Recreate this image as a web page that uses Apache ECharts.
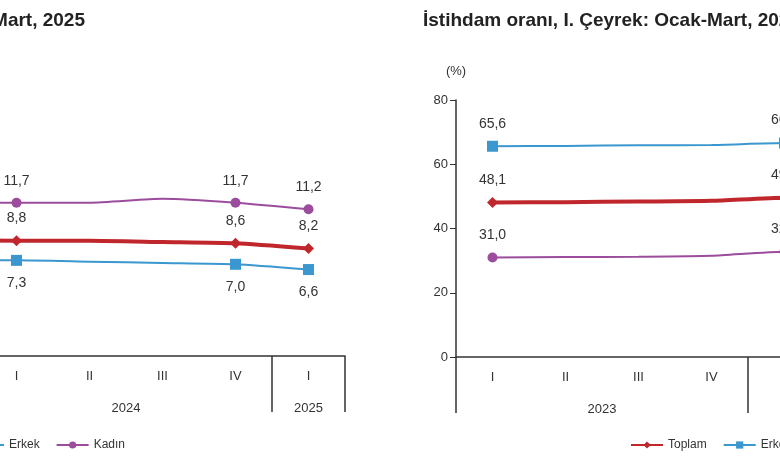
<!DOCTYPE html>
<html><head><meta charset="utf-8">
<script src="https://cdn.jsdelivr.net/npm/echarts@6/dist/echarts.min.js"></script>
<style>html,body{margin:0;background:#fff;overflow:hidden;width:780px;height:470px}#c{position:absolute;left:-400px;top:0;width:1560px;height:470px}</style>
</head><body><div id="c"></div>
<script>
const quarters = ['I','II','III','IV','I','II','III','IV','I'];
const yearLabels = {2:'2023', 6:'2024', 8.5:'2025'};
// Unemployment (left chart)
const unTotal = [10.0, 9.6, 9.2, 8.9, 8.8, 8.8, 8.7, 8.6, 8.2];
const unMale  = [8.3, 8.0, 7.6, 7.3, 7.3, 7.2, 7.1, 7.0, 6.6];
const unFemale= [13.4, 12.8, 12.4, 11.8, 11.7, 11.7, 12.0, 11.7, 11.2];
// Employment (right chart)
const emTotal = [48.1, 48.2, 48.4, 48.6, 49.6, 49.4, 49.3, 49.1, 49.0];
const emMale  = [65.6, 65.7, 65.9, 66.0, 66.6, 66.3, 66.1, 65.9, 65.8];
const emFemale= [31.0, 31.1, 31.2, 31.5, 32.8, 32.6, 32.5, 32.4, 32.3];
const labelIdx = [0,4,7,8];
const names = ['Toplam','Erkek','Kadın'];
const colors = ['#C0272D','#3A97CF','#9B4C9C'];
const symbols = ['diamond','rect','circle'];

const fmt = v => v.toFixed(1).replace('.', ',');
function mk(vals, k, gi, pos){
  return {
    name: names[k], type:'line', xAxisIndex: gi*2, yAxisIndex: gi, smooth:0.2,
    color: colors[k], symbol:symbols[k], symbolSize:7,
    lineStyle:{width: k===0?4:2, color:colors[k]},
    z: k===0?3:2,
    data: vals.map((v,i)=>labelIdx.includes(i)
      ? {value:v, symbol:symbols[k], symbolSize:k===2?10:11,
         label:{show:true, position:pos, distance:10, formatter:()=>fmt(v), fontSize:14, color:'#333'}}
      : {value:v, symbol:'none'})
  };
}
function xAxes(gi){
  return [
    {type:'category', gridIndex:gi, data:quarters, boundaryGap:true,
     axisLine:{lineStyle:{color:'#333', width:1.5}},
     axisTick:{show:true, interval:(i)=>[0,4,8,9].includes(i), length:56, lineStyle:{color:'#333',width:1.5}},
     axisLabel:{color:'#333', fontSize:13, margin:14, interval:0}},
    {type:'value', gridIndex:gi, min:0, max:9, interval:0.5, position:'bottom', offset:38,
     axisLine:{show:false}, axisTick:{show:false}, splitLine:{show:false},
     axisLabel:{color:'#333', fontSize:13, formatter:v=>yearLabels[v]||''}}
  ];
}
const legendBase = {data:names, orient:'horizontal', bottom:14, itemWidth:32, itemHeight:9, itemGap:16,
  textStyle:{fontSize:12,color:'#333'}};
const chart = echarts.init(document.getElementById('c'));
chart.setOption({
  animation:false,
  textStyle:{fontFamily:'Liberation Sans, Arial, sans-serif'},
  title:[
    {text:'İşsizlik oranı, I. Çeyrek: Ocak-Mart, 2025', right:1070, top:6,
     textStyle:{fontSize:19, fontWeight:'bold', color:'#222'}},
    {text:'İstihdam oranı, I. Çeyrek: Ocak-Mart, 2025', left:818, top:6,
     textStyle:{fontSize:19, fontWeight:'bold', color:'#222'}}
  ],
  legend:[
    Object.assign({right:1030}, legendBase),
    Object.assign({left:1025}, legendBase)
  ],
  grid:[
    {left:88, right:815, top:94, bottom:114},
    {left:856, right:47, top:100, bottom:113}
  ],
  xAxis:[...xAxes(0), ...xAxes(1)],
  yAxis:[
    {type:'value', gridIndex:0, min:0, max:20, show:false, splitLine:{show:false}},
    {type:'value', gridIndex:1, min:0, max:80, interval:20, name:'(%)', nameGap:22,
     nameTextStyle:{color:'#333', fontSize:13, align:'center'},
     axisLine:{show:true, lineStyle:{color:'#333', width:1.5}},
     axisTick:{show:true, length:6}, splitLine:{show:false},
     axisLabel:{color:'#333', fontSize:13}}
  ],
  series:[
    mk(unTotal,0,0,'top'), mk(unMale,1,0,'bottom'), mk(unFemale,2,0,'top'),
    mk(emTotal,0,1,'top'), mk(emMale,1,1,'top'), mk(emFemale,2,1,'top')
  ]
});
</script></body></html>
